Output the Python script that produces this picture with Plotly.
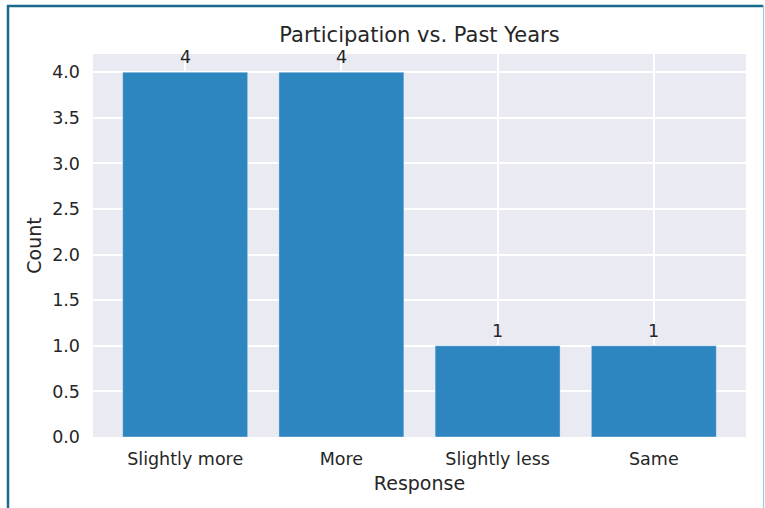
import plotly.graph_objects as go

categories = ["Slightly more", "More", "Slightly less", "Same"]
counts = [4, 4, 1, 1]
y_ticks = [0.0, 0.5, 1.0, 1.5, 2.0, 2.5, 3.0, 3.5, 4.0]

FONT = "DejaVu Sans"
TXT = "#262626"
W, H = 765, 508
L, R, T, B = 93, 19, 54, 71
pw, ph = W - L - R, H - T - B

def px_x(p):
    return (p - L) / pw

def px_y(p):
    return (H - B - p) / ph

fig = go.Figure()
fig.add_trace(go.Bar(
    x=categories, y=counts, width=0.8,
    marker=dict(color="#2E86C1", line=dict(color="rgba(255,255,255,0.35)", width=1)),
    hoverinfo="skip", showlegend=False,
))

for c, v in zip(categories, counts):
    fig.add_annotation(x=c, y=v, text=str(v), showarrow=False, yanchor="bottom",
                       yshift=3, font=dict(family=FONT, size=17.5, color=TXT))

border = "#1b6a8e"
fig.add_shape(type="line", xref="paper", yref="paper", x0=px_x(7), x1=px_x(763), y0=px_y(6), y1=px_y(6),
              line=dict(color=border, width=2.5))
fig.add_shape(type="line", xref="paper", yref="paper", x0=px_x(8), x1=px_x(8), y0=px_y(5), y1=px_y(520),
              line=dict(color=border, width=2.5))
fig.add_shape(type="line", xref="paper", yref="paper", x0=px_x(763.5), x1=px_x(763.5), y0=px_y(5), y1=px_y(520),
              line=dict(color="#9cc8da", width=1.2))

fig.update_layout(
    width=W, height=H,
    margin=dict(l=L, r=R, t=T, b=B, autoexpand=False),
    paper_bgcolor="white", plot_bgcolor="#EAEAF2",
    font=dict(family=FONT, color=TXT, size=17.5),
    title=dict(text="Participation vs. Past Years", x=(L + pw / 2) / W, xanchor="center",
               y=1 - 42 / H, yanchor="bottom", yref="container",
               font=dict(family=FONT, size=21, color=TXT), pad=dict(b=0)),
    bargap=0.2,
)
fig.update_xaxes(
    range=[-0.59, 3.59], showgrid=True, gridcolor="white", gridwidth=1.5,
    ticks="", ticklabelstandoff=9, zeroline=False, showline=False,
    tickfont=dict(family=FONT, size=17.5, color=TXT),
    title=dict(text="Response", font=dict(family=FONT, size=19, color=TXT), standoff=9),
)
fig.update_yaxes(
    range=[0, 4.2], tickvals=y_ticks, tickformat=".1f", showgrid=True, gridcolor="white", gridwidth=1.5,
    ticks="", ticklabelstandoff=12, zeroline=False, showline=False,
    tickfont=dict(family=FONT, size=17.5, color=TXT),
    title=dict(text="Count", font=dict(family=FONT, size=19, color=TXT), standoff=5),
)

fig.write_html("out.html", config={"displayModeBar": False},
               post_script="document.body.style.margin='0';document.body.style.overflow='hidden';")
